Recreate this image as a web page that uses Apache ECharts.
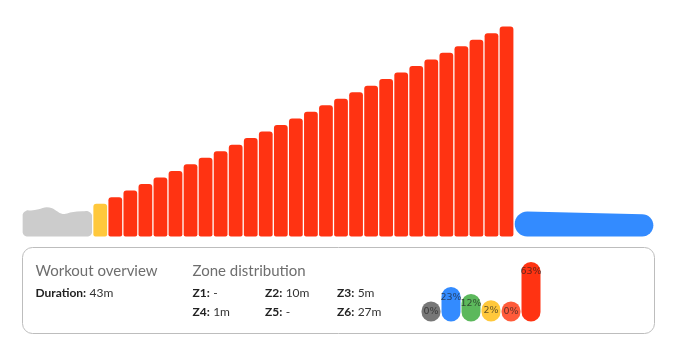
<!DOCTYPE html>
<html><head><meta charset="utf-8">
<script src="https://cdn.jsdelivr.net/npm/echarts@6/dist/echarts.min.js"></script>
<style>html,body{margin:0;padding:0;background:#fff}#c{width:674px;height:344px}</style>
</head><body><div id="c"></div>
<script>
// Free-ride warm-up profile (minutes from start, power in W)
const freeRideTimes  = [0, 0.6, 1.1, 1.65, 2.0, 2.3, 2.65, 2.9, 3.3, 4.0, 4.7];
const freeRidePowers = [79, 79, 83, 89, 86, 78, 69, 69, 74, 77, 77];

// Structured intervals after the free ride
const intervalDurations   = [1, 1, 1, 1, 1, 1, 1, 1, 1, 1, 1, 1, 1, 1, 1, 1, 1, 1, 1, 1, 1, 1, 1, 1, 1, 1, 1, 1, 9.3];
const intervalStartPowers = [100, 120, 140, 160, 180, 200, 220, 240, 260, 280, 300, 320, 340, 360, 380, 400, 420, 440, 460, 480, 500, 520, 540, 560, 580, 600, 620, 640, 76];
const intervalEndPowers   = [100, 120, 140, 160, 180, 200, 220, 240, 260, 280, 300, 320, 340, 360, 380, 400, 420, 440, 460, 480, 500, 520, 540, 560, 580, 600, 620, 640, 68];
const intervalZones       = ['Z4', 'Z6', 'Z6', 'Z6', 'Z6', 'Z6', 'Z6', 'Z6', 'Z6', 'Z6', 'Z6', 'Z6', 'Z6', 'Z6', 'Z6', 'Z6', 'Z6', 'Z6', 'Z6', 'Z6', 'Z6', 'Z6', 'Z6', 'Z6', 'Z6', 'Z6', 'Z6', 'Z6', 'Z2'];

// Summary
const overviewTitle = 'Workout overview';
const zoneTitle = 'Zone distribution';
const durationLabel = 'Duration:';
const durationValue = '43m';
const zoneNames    = ['Z1', 'Z2', 'Z3', 'Z4', 'Z5', 'Z6'];
const zoneMinutes  = ['-', '10m', '5m', '1m', '-', '27m'];
const zonePercents = [0, 23, 12, 2, 0, 63];

const zoneColors = { Z1: '#777777', Z2: '#338BFF', Z3: '#5CB85C', Z4: '#FFC83C', Z5: '#FF5B3A', Z6: '#FF3312' };
const freeRideColor = '#CCCCCC';

// build interval items [start, end, p0, p1]
const freeRideEnd = freeRideTimes[freeRideTimes.length - 1];
const intervalItems = [];
let t = freeRideEnd;
for (let i = 0; i < intervalDurations.length; i++) {
  intervalItems.push([t, t + intervalDurations[i], intervalStartPowers[i], intervalEndPowers[i]]);
  t += intervalDurations[i];
}
const totalTime = t;

const chart = echarts.init(document.getElementById('c'), null, { renderer: 'canvas' });
const GAP = 0.65;

function renderFreeRide(params, api) {
  const a = api.coord([freeRideTimes[0], 0]);
  const b = api.coord([freeRideEnd, 0]);
  const x0 = a[0] + GAP, x1 = b[0] - GAP, bot = a[1];
  const r = 4;
  const tops = freeRideTimes.map((tt, i) => api.coord([tt, freeRidePowers[i]]));
  const pts = [];
  pts.push([x1 - r, bot], [x0 + r, bot], [x0, bot - r]);
  pts.push([x0, tops[0][1] + r]);
  for (let i = 0; i < tops.length; i++) {
    let x = tops[i][0];
    if (i === 0) x = x0 + r;
    if (i === tops.length - 1) x = x1 - r;
    pts.push([x, tops[i][1]]);
  }
  pts.push([x1, tops[tops.length - 1][1] + r], [x1, bot - r]);
  return { type: 'polygon', shape: { points: pts, smooth: 0.35, smoothConstraint: [[x0, bot], [x0, bot]] }, style: { fill: freeRideColor } };
}

function renderInterval(params, api) {
  const s = api.value(0), e = api.value(1), p0 = api.value(2), p1 = api.value(3);
  const a = api.coord([s, 0]), b = api.coord([e, 0]);
  const x0 = a[0] + GAP, x1 = b[0] - GAP, bot = a[1];
  const y0 = api.coord([s, p0])[1], y1 = api.coord([e, p1])[1];
  const color = zoneColors[intervalZones[params.dataIndex]];
  if (p0 === p1) {
    return { type: 'rect', shape: { x: x0, y: y0, width: x1 - x0, height: bot - y0, r: [3, 3, 2, 2] }, style: { fill: color } };
  }
  const rL = (bot - y0) / 2, rR = (bot - y1) / 2;
  const cL = [x0 + rL, bot - rL], cR = [x1 - rR, bot - rR];
  const pts = [];
  const n = 16;
  for (let k = 0; k <= n; k++) {
    const ang = Math.PI / 2 + Math.PI * k / n;
    pts.push([cL[0] + rL * Math.cos(ang), cL[1] + rL * Math.sin(ang)]);
  }
  for (let k = 0; k <= n; k++) {
    const ang = -Math.PI / 2 + Math.PI * k / n;
    pts.push([cR[0] + rR * Math.cos(ang), cR[1] + rR * Math.sin(ang)]);
  }
  return { type: 'polygon', shape: { points: pts }, style: { fill: color } };
}

function renderZoneBar(params, api) {
  const i = api.value(0), v = api.value(1);
  const c = api.coord([i, v]);
  const b = api.coord([i, -32]);
  const w = api.size([1, 0])[0] - 1;
  const color = zoneColors[zoneNames[params.dataIndex]];
  return {
    type: 'group',
    children: [
      { type: 'rect', shape: { x: c[0] - w / 2, y: c[1], width: w, height: b[1] - c[1], r: w / 2 }, style: { fill: color } },
      { type: 'text', x: c[0], y: c[1] + 10, style: { text: v + '%', align: 'center', verticalAlign: 'middle', fontSize: 9.5, fontFamily: 'DejaVu Sans', fill: 'rgba(30,30,30,0.7)' } }
    ]
  };
}

const txtFont = 'Lato';
const rich = {
  b: { fontFamily: txtFont, fontWeight: 'bold', fontSize: 12, fill: '#222' },
  v: { fontFamily: txtFont, fontSize: 12, fill: '#333' }
};
function zoneText(i, x, y) {
  return { type: 'text', x: x, y: y, style: { text: '{b|' + zoneNames[i] + ':} {v|' + zoneMinutes[i] + '}', rich: rich, verticalAlign: 'middle' } };
}

const option = {
  animation: false,
  grid: [
    { left: 22, right: 20, top: 26.6, bottom: 107.5 },
    { left: 421, width: 120, top: 262, bottom: 22.5 }
  ],
  xAxis: [
    { type: 'value', gridIndex: 0, min: 0, max: totalTime, show: false },
    { type: 'category', gridIndex: 1, data: zoneNames, show: false }
  ],
  yAxis: [
    { type: 'value', gridIndex: 0, min: 0, max: 640, show: false },
    { type: 'value', gridIndex: 1, min: -32, max: 63, show: false }
  ],
  series: [
    { type: 'custom', coordinateSystem: 'cartesian2d', xAxisIndex: 0, yAxisIndex: 0, renderItem: renderFreeRide, data: [[0, freeRidePowers[0]]], encode: { x: 0, y: 1 }, silent: true },
    { type: 'custom', coordinateSystem: 'cartesian2d', xAxisIndex: 0, yAxisIndex: 0, renderItem: renderInterval, data: intervalItems, encode: { x: 0, y: 2 }, silent: true },
    { type: 'custom', coordinateSystem: 'cartesian2d', xAxisIndex: 1, yAxisIndex: 1, renderItem: renderZoneBar, data: zonePercents.map((v, i) => [i, v]), encode: { x: 0, y: 1 }, silent: true }
  ],
  graphic: [
    { type: 'rect', shape: { x: 22.5, y: 247.5, width: 632, height: 86, r: 10 }, style: { fill: 'none', stroke: '#bdbdbd', lineWidth: 1 }, silent: true },
    { type: 'text', x: 35.5, y: 271, style: { text: overviewTitle, fontFamily: txtFont, fontSize: 15, fill: '#6e6e6e', verticalAlign: 'middle' } },
    { type: 'text', x: 192.5, y: 271, style: { text: zoneTitle, fontFamily: txtFont, fontSize: 15, fill: '#6e6e6e', verticalAlign: 'middle' } },
    { type: 'text', x: 35.5, y: 293, style: { text: '{b|' + durationLabel + '} {v|' + durationValue + '}', rich: rich, verticalAlign: 'middle' } },
    zoneText(0, 192.5, 293), zoneText(1, 265, 293), zoneText(2, 337, 293),
    zoneText(3, 192.5, 312), zoneText(4, 265, 312), zoneText(5, 337, 312)
  ]
};
chart.setOption(option);
</script>
</body></html>
